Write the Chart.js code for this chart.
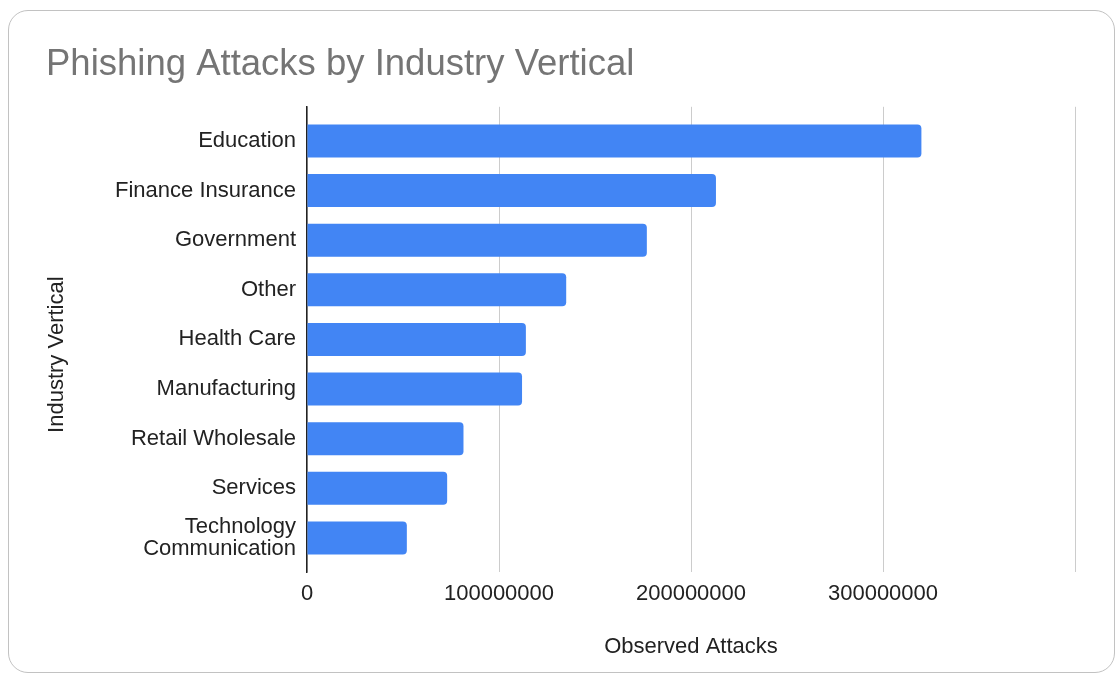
<!DOCTYPE html>
<html>
<head>
<meta charset="utf-8">
<title>Phishing Attacks by Industry Vertical</title>
<script src="https://cdn.jsdelivr.net/npm/chart.js@4.4.1/dist/chart.umd.min.js"></script>
<style>
  html, body { margin: 0; padding: 0; background: #fff; }
  #frame {
    position: absolute; left: 8px; top: 10px;
    width: 1105px; height: 661px;
    border: 1.5px solid #c2c2c2; border-radius: 20px;
  }
  #chart { position: absolute; left: 0; top: 0; }
</style>
</head>
<body>
<div id="frame"></div>
<canvas id="chart" width="1117" height="678"></canvas>
<script>
  var industries = [
    "Education",
    "Finance Insurance",
    "Government",
    "Other",
    "Health Care",
    "Manufacturing",
    "Retail Wholesale",
    "Services",
    ["Technology", "Communication"]
  ];
  var observed_attacks = [
    320000000, 213000000, 177000000, 135000000, 114000000,
    112000000, 81500000, 73000000, 52000000
  ];
  var x_ticks = [0, 100000000, 200000000, 300000000];

  var FONT = "'Liberation Sans', Arial, Helvetica, sans-serif";

  var points = observed_attacks.map(function(v, i) {
    return { x: v, y: i };
  });

  var ctx = document.getElementById("chart");
  var chart = new Chart(ctx, {
    type: 'bar',
    data: {
      datasets: [{
        label: "Observed Attacks",
        data: points,
        backgroundColor: "#4285F4",
        borderRadius: 4,
        categoryPercentage: 1,
        barPercentage: 0.665
      }]
    },
    options: {
      indexAxis: 'y',
      responsive: false,
      animation: false,
      layout: { padding: { left: 46, right: 42, top: 30, bottom: 16 } },
      plugins: {
        legend: { display: false },
        tooltip: { enabled: false },
        title: {
          display: true,
          text: "Phishing Attacks by Industry Vertical",
          align: 'start',
          color: "#757575",
          font: { family: FONT, size: 36.5, weight: 'normal' },
          padding: { top: 13, bottom: 20 }
        }
      },
      scales: {
        x: {
          type: 'linear',
          min: 0,
          max: 400000000,
          afterFit: function(s) { s.height = 90; },
          ticks: {
            stepSize: 100000000,
            padding: 9,
            color: "#222",
            font: { family: FONT, size: 22 },
            callback: function(v) {
              return x_ticks.indexOf(v) >= 0 ? String(v) : '';
            }
          },
          grid: { color: "#cccccc", lineWidth: 1, drawTicks: false },
          border: { display: false },
          title: {
            display: true,
            text: "Observed Attacks",
            color: "#222",
            font: { family: FONT, size: 22, lineHeight: 1 },
            padding: { top: 4, bottom: 4 }
          }
        },
        y: {
          type: 'linear',
          reverse: true,
          offset: false,
          min: -0.6875,
          max: 8.6875,
          afterFit: function(s) { s.width = 261; },
          ticks: {
            stepSize: 1,
            includeBounds: false,
            autoSkip: false,
            padding: 11,
            color: "#222",
            font: { family: FONT, size: 22, lineHeight: 1.0 },
            callback: function(v) {
              return Number.isInteger(v) ? industries[v] : '';
            }
          },
          grid: { display: false, drawTicks: false, offset: false },
          border: { display: true, color: "#222", width: 1.5 },
          title: {
            display: true,
            // trailing spaces nudge the centred title down like the original
            text: "Industry Vertical     ",
            color: "#222",
            font: { family: FONT, size: 22, lineHeight: 1 },
            padding: 0
          }
        }
      }
    }
  });
</script>
</body>
</html>
